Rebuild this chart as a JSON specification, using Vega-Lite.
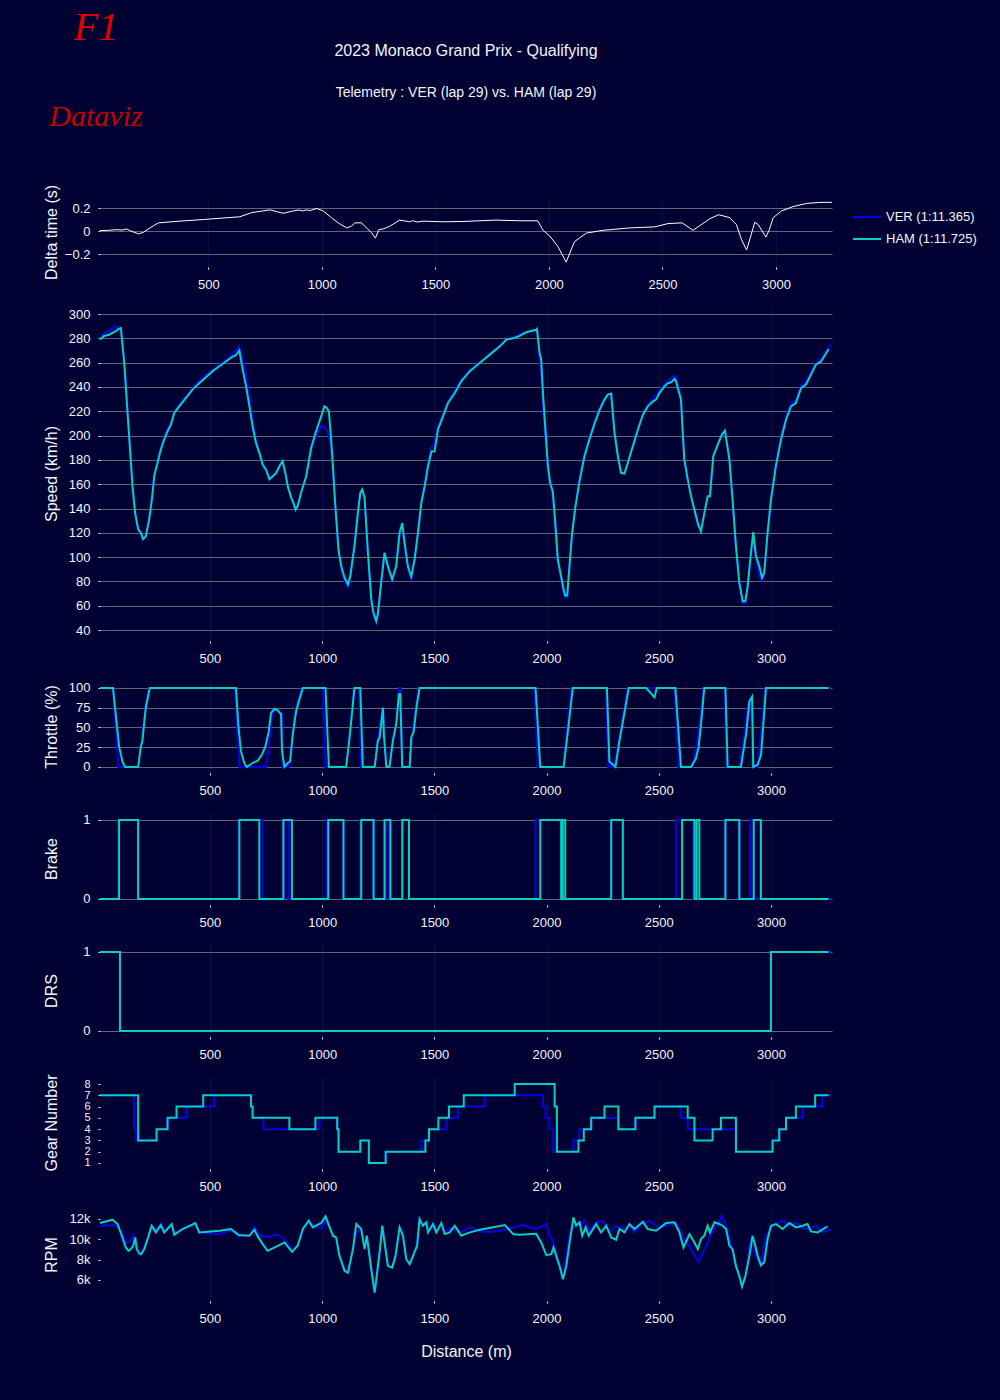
{
  "$schema": "https://vega.github.io/schema/vega-lite/v6.json",
  "background": "#000033",
  "padding": {"left": 42, "top": 8, "right": 90, "bottom": 50},
  "title": {
    "text": "F1",
    "subtitle": "Dataviz",
    "anchor": "start",
    "align": "center",
    "dx": 53,
    "offset": -89,
    "font": "Liberation Serif",
    "fontStyle": "italic",
    "fontWeight": "normal",
    "fontSize": 40,
    "color": "#e00000",
    "subtitleFont": "Liberation Serif",
    "subtitleFontStyle": "italic",
    "subtitleFontSize": 30,
    "subtitleColor": "#c80000",
    "subtitlePadding": 54
  },
  "datasets": {
    "delta": [
      {"d": 23, "v": 0.003}, {"d": 60, "v": 0.006}, {"d": 97, "v": 0.012}, {"d": 120, "v": 0.008}, {"d": 141, "v": 0.018},
      {"d": 155, "v": 0.003}, {"d": 192, "v": -0.024}, {"d": 214, "v": -0.012}, {"d": 243, "v": 0.027}, {"d": 280, "v": 0.071},
      {"d": 375, "v": 0.086}, {"d": 478, "v": 0.1}, {"d": 639, "v": 0.124}, {"d": 691, "v": 0.16}, {"d": 771, "v": 0.184},
      {"d": 800, "v": 0.17}, {"d": 830, "v": 0.154}, {"d": 874, "v": 0.175}, {"d": 900, "v": 0.183}, {"d": 915, "v": 0.175},
      {"d": 933, "v": 0.184}, {"d": 950, "v": 0.178}, {"d": 977, "v": 0.196}, {"d": 1006, "v": 0.175}, {"d": 1043, "v": 0.116},
      {"d": 1072, "v": 0.071}, {"d": 1109, "v": 0.027}, {"d": 1130, "v": 0.041}, {"d": 1145, "v": 0.071}, {"d": 1175, "v": 0.071},
      {"d": 1189, "v": 0.041}, {"d": 1218, "v": -0.012}, {"d": 1236, "v": -0.062}, {"d": 1251, "v": 0.012}, {"d": 1270, "v": 0.018},
      {"d": 1299, "v": 0.041}, {"d": 1343, "v": 0.095}, {"d": 1365, "v": 0.088}, {"d": 1387, "v": 0.08}, {"d": 1400, "v": 0.09},
      {"d": 1420, "v": 0.078}, {"d": 1446, "v": 0.086}, {"d": 1534, "v": 0.08}, {"d": 1622, "v": 0.083}, {"d": 1768, "v": 0.095},
      {"d": 1871, "v": 0.089}, {"d": 1951, "v": 0.089}, {"d": 1974, "v": 0.006}, {"d": 2003, "v": -0.041}, {"d": 2040, "v": -0.136},
      {"d": 2076, "v": -0.27}, {"d": 2113, "v": -0.092}, {"d": 2165, "v": -0.018}, {"d": 2238, "v": 0.006}, {"d": 2356, "v": 0.027},
      {"d": 2466, "v": 0.036}, {"d": 2525, "v": 0.065}, {"d": 2587, "v": 0.071}, {"d": 2635, "v": 0.006}, {"d": 2709, "v": 0.107},
      {"d": 2748, "v": 0.142}, {"d": 2797, "v": 0.116}, {"d": 2826, "v": 0.056}, {"d": 2849, "v": -0.077}, {"d": 2871, "v": -0.166},
      {"d": 2893, "v": -0.018}, {"d": 2907, "v": 0.077}, {"d": 2922, "v": 0.056}, {"d": 2956, "v": -0.053}, {"d": 2971, "v": 0.012},
      {"d": 2988, "v": 0.116}, {"d": 3025, "v": 0.175}, {"d": 3076, "v": 0.213}, {"d": 3135, "v": 0.24}, {"d": 3194, "v": 0.249},
      {"d": 3247, "v": 0.25}
    ],
    "speed": [
      {"drv":"VER","d":10,"v":279.5},{"drv":"VER","d":28,"v":284},{"drv":"VER","d":51,"v":286},{"drv":"VER","d":80,"v":290},{"drv":"VER","d":95,"v":288.5},
      {"drv":"VER","d":103,"v":287},{"drv":"VER","d":118,"v":262},{"drv":"VER","d":132,"v":222},{"drv":"VER","d":147,"v":181},{"drv":"VER","d":155,"v":158},
      {"drv":"VER","d":167,"v":136},{"drv":"VER","d":180,"v":123},{"drv":"VER","d":192,"v":119},{"drv":"VER","d":202,"v":114},{"drv":"VER","d":214,"v":117},
      {"drv":"VER","d":229,"v":132},{"drv":"VER","d":241,"v":149},{"drv":"VER","d":252,"v":168},{"drv":"VER","d":266,"v":178},{"drv":"VER","d":281,"v":190},
      {"drv":"VER","d":296,"v":198},{"drv":"VER","d":311,"v":206},{"drv":"VER","d":326,"v":210},{"drv":"VER","d":341,"v":219},{"drv":"VER","d":363,"v":225},
      {"drv":"VER","d":393,"v":232},{"drv":"VER","d":423,"v":239},{"drv":"VER","d":452,"v":245},{"drv":"VER","d":482,"v":250},{"drv":"VER","d":512,"v":254},
      {"drv":"VER","d":542,"v":258},{"drv":"VER","d":571,"v":262},{"drv":"VER","d":601,"v":267},{"drv":"VER","d":615,"v":270},{"drv":"VER","d":631,"v":273},
      {"drv":"VER","d":646,"v":262},{"drv":"VER","d":661,"v":250},{"drv":"VER","d":676,"v":232},{"drv":"VER","d":690,"v":212},{"drv":"VER","d":705,"v":196},
      {"drv":"VER","d":720,"v":187},{"drv":"VER","d":735,"v":177},{"drv":"VER","d":750,"v":172},{"drv":"VER","d":765,"v":165},{"drv":"VER","d":780,"v":167},
      {"drv":"VER","d":795,"v":170},{"drv":"VER","d":810,"v":175},{"drv":"VER","d":824,"v":178},{"drv":"VER","d":836,"v":170},{"drv":"VER","d":847,"v":158},
      {"drv":"VER","d":862,"v":149},{"drv":"VER","d":872,"v":144},{"drv":"VER","d":881,"v":139},{"drv":"VER","d":891,"v":142},{"drv":"VER","d":906,"v":153},
      {"drv":"VER","d":929,"v":167},{"drv":"VER","d":951,"v":188},{"drv":"VER","d":973,"v":200},{"drv":"VER","d":996,"v":208},{"drv":"VER","d":1010,"v":207},
      {"drv":"VER","d":1021,"v":204},{"drv":"VER","d":1030,"v":199},{"drv":"VER","d":1040,"v":190},{"drv":"VER","d":1048,"v":172},{"drv":"VER","d":1055,"v":150},
      {"drv":"VER","d":1062,"v":132},{"drv":"VER","d":1073,"v":105},{"drv":"VER","d":1085,"v":90},{"drv":"VER","d":1100,"v":80},{"drv":"VER","d":1115,"v":75},
      {"drv":"VER","d":1125,"v":83},{"drv":"VER","d":1144,"v":110},{"drv":"VER","d":1159,"v":137},{"drv":"VER","d":1170,"v":153},{"drv":"VER","d":1179,"v":155},
      {"drv":"VER","d":1189,"v":148},{"drv":"VER","d":1204,"v":102},{"drv":"VER","d":1219,"v":63},{"drv":"VER","d":1229,"v":52},{"drv":"VER","d":1241,"v":46},
      {"drv":"VER","d":1248,"v":52},{"drv":"VER","d":1263,"v":79},{"drv":"VER","d":1278,"v":103},{"drv":"VER","d":1293,"v":92},{"drv":"VER","d":1312,"v":81},
      {"drv":"VER","d":1330,"v":93},{"drv":"VER","d":1345,"v":121},{"drv":"VER","d":1357,"v":127},{"drv":"VER","d":1367,"v":110},{"drv":"VER","d":1382,"v":90},
      {"drv":"VER","d":1397,"v":82},{"drv":"VER","d":1412,"v":98},{"drv":"VER","d":1427,"v":121},{"drv":"VER","d":1442,"v":146},{"drv":"VER","d":1457,"v":160},
      {"drv":"VER","d":1472,"v":177},{"drv":"VER","d":1487,"v":190},{"drv":"VER","d":1501,"v":195},{"drv":"VER","d":1516,"v":207},{"drv":"VER","d":1539,"v":218},
      {"drv":"VER","d":1561,"v":228},{"drv":"VER","d":1591,"v":237},{"drv":"VER","d":1620,"v":246},{"drv":"VER","d":1658,"v":254},{"drv":"VER","d":1702,"v":260},
      {"drv":"VER","d":1747,"v":267},{"drv":"VER","d":1792,"v":274},{"drv":"VER","d":1821,"v":279},{"drv":"VER","d":1851,"v":281},{"drv":"VER","d":1880,"v":283},
      {"drv":"VER","d":1909,"v":285},{"drv":"VER","d":1954,"v":287},{"drv":"VER","d":1960,"v":286},{"drv":"VER","d":1969,"v":262},{"drv":"VER","d":1976,"v":250},
      {"drv":"VER","d":1984,"v":225},{"drv":"VER","d":1996,"v":195},{"drv":"VER","d":2006,"v":172},{"drv":"VER","d":2016,"v":160},{"drv":"VER","d":2028,"v":150},
      {"drv":"VER","d":2040,"v":122},{"drv":"VER","d":2050,"v":96},{"drv":"VER","d":2065,"v":82},{"drv":"VER","d":2076,"v":70},{"drv":"VER","d":2083,"v":67},
      {"drv":"VER","d":2092,"v":67},{"drv":"VER","d":2102,"v":90},{"drv":"VER","d":2114,"v":118},{"drv":"VER","d":2129,"v":142},{"drv":"VER","d":2147,"v":165},
      {"drv":"VER","d":2169,"v":185},{"drv":"VER","d":2191,"v":198},{"drv":"VER","d":2214,"v":211},{"drv":"VER","d":2236,"v":222},{"drv":"VER","d":2258,"v":230},
      {"drv":"VER","d":2273,"v":234},{"drv":"VER","d":2288,"v":234},{"drv":"VER","d":2303,"v":202},{"drv":"VER","d":2318,"v":183},{"drv":"VER","d":2332,"v":170},
      {"drv":"VER","d":2347,"v":169},{"drv":"VER","d":2362,"v":177},{"drv":"VER","d":2384,"v":190},{"drv":"VER","d":2407,"v":204},{"drv":"VER","d":2429,"v":217},
      {"drv":"VER","d":2451,"v":225},{"drv":"VER","d":2473,"v":230},{"drv":"VER","d":2488,"v":233},{"drv":"VER","d":2503,"v":237},{"drv":"VER","d":2525,"v":242},
      {"drv":"VER","d":2540,"v":245},{"drv":"VER","d":2555,"v":247},{"drv":"VER","d":2570,"v":249},{"drv":"VER","d":2577,"v":248},{"drv":"VER","d":2585,"v":242},
      {"drv":"VER","d":2599,"v":232},{"drv":"VER","d":2607,"v":205},{"drv":"VER","d":2614,"v":183},{"drv":"VER","d":2629,"v":165},{"drv":"VER","d":2644,"v":150},
      {"drv":"VER","d":2659,"v":138},{"drv":"VER","d":2674,"v":126},{"drv":"VER","d":2688,"v":122},{"drv":"VER","d":2703,"v":137},{"drv":"VER","d":2718,"v":150},
      {"drv":"VER","d":2728,"v":150},{"drv":"VER","d":2743,"v":183},{"drv":"VER","d":2763,"v":193},{"drv":"VER","d":2782,"v":201},{"drv":"VER","d":2795,"v":204},
      {"drv":"VER","d":2815,"v":180},{"drv":"VER","d":2829,"v":146},{"drv":"VER","d":2844,"v":107},{"drv":"VER","d":2859,"v":77},{"drv":"VER","d":2874,"v":62},
      {"drv":"VER","d":2886,"v":62},{"drv":"VER","d":2896,"v":75},{"drv":"VER","d":2911,"v":102},{"drv":"VER","d":2921,"v":118},{"drv":"VER","d":2933,"v":99},
      {"drv":"VER","d":2948,"v":85},{"drv":"VER","d":2960,"v":81},{"drv":"VER","d":2970,"v":86},{"drv":"VER","d":2985,"v":120},{"drv":"VER","d":3000,"v":148},
      {"drv":"VER","d":3022,"v":177},{"drv":"VER","d":3045,"v":199},{"drv":"VER","d":3067,"v":215},{"drv":"VER","d":3089,"v":226},{"drv":"VER","d":3111,"v":229},
      {"drv":"VER","d":3134,"v":241},{"drv":"VER","d":3156,"v":244},{"drv":"VER","d":3178,"v":252},{"drv":"VER","d":3200,"v":259},{"drv":"VER","d":3223,"v":263},
      {"drv":"VER","d":3267,"v":275},
      {"drv":"HAM","d":10,"v":279},{"drv":"HAM","d":28,"v":282},{"drv":"HAM","d":51,"v":283},{"drv":"HAM","d":80,"v":286},{"drv":"HAM","d":95,"v":288},
      {"drv":"HAM","d":103,"v":288.5},{"drv":"HAM","d":118,"v":260},{"drv":"HAM","d":132,"v":221},{"drv":"HAM","d":147,"v":180},{"drv":"HAM","d":155,"v":158},
      {"drv":"HAM","d":167,"v":136},{"drv":"HAM","d":180,"v":123},{"drv":"HAM","d":192,"v":120},{"drv":"HAM","d":202,"v":115},{"drv":"HAM","d":214,"v":117},
      {"drv":"HAM","d":229,"v":131},{"drv":"HAM","d":241,"v":147},{"drv":"HAM","d":252,"v":167},{"drv":"HAM","d":266,"v":177.5},{"drv":"HAM","d":281,"v":188.5},
      {"drv":"HAM","d":296,"v":196.7},{"drv":"HAM","d":311,"v":203.6},{"drv":"HAM","d":326,"v":209},{"drv":"HAM","d":341,"v":218.6},{"drv":"HAM","d":363,"v":224},
      {"drv":"HAM","d":393,"v":231},{"drv":"HAM","d":423,"v":238},{"drv":"HAM","d":452,"v":243},{"drv":"HAM","d":482,"v":248},{"drv":"HAM","d":512,"v":253},
      {"drv":"HAM","d":542,"v":257},{"drv":"HAM","d":571,"v":261},{"drv":"HAM","d":601,"v":265},{"drv":"HAM","d":615,"v":266},{"drv":"HAM","d":631,"v":270},
      {"drv":"HAM","d":646,"v":254},{"drv":"HAM","d":661,"v":240.5},{"drv":"HAM","d":676,"v":224},{"drv":"HAM","d":690,"v":207.7},{"drv":"HAM","d":705,"v":194},
      {"drv":"HAM","d":720,"v":185.8},{"drv":"HAM","d":735,"v":176},{"drv":"HAM","d":750,"v":172},{"drv":"HAM","d":765,"v":164},{"drv":"HAM","d":780,"v":166.6},
      {"drv":"HAM","d":795,"v":169},{"drv":"HAM","d":810,"v":175},{"drv":"HAM","d":824,"v":179},{"drv":"HAM","d":836,"v":169},{"drv":"HAM","d":847,"v":158},
      {"drv":"HAM","d":862,"v":149},{"drv":"HAM","d":872,"v":144.7},{"drv":"HAM","d":881,"v":139},{"drv":"HAM","d":891,"v":142},{"drv":"HAM","d":906,"v":153},
      {"drv":"HAM","d":929,"v":166.6},{"drv":"HAM","d":951,"v":190},{"drv":"HAM","d":973,"v":203.6},{"drv":"HAM","d":996,"v":216},{"drv":"HAM","d":1010,"v":224},
      {"drv":"HAM","d":1021,"v":222.7},{"drv":"HAM","d":1030,"v":220},{"drv":"HAM","d":1040,"v":196.7},{"drv":"HAM","d":1048,"v":175},{"drv":"HAM","d":1055,"v":153},
      {"drv":"HAM","d":1062,"v":133.7},{"drv":"HAM","d":1073,"v":106},{"drv":"HAM","d":1085,"v":92.6},{"drv":"HAM","d":1100,"v":83},{"drv":"HAM","d":1115,"v":77.5},
      {"drv":"HAM","d":1125,"v":84},{"drv":"HAM","d":1144,"v":109},{"drv":"HAM","d":1159,"v":136},{"drv":"HAM","d":1170,"v":153},{"drv":"HAM","d":1179,"v":155.6},
      {"drv":"HAM","d":1189,"v":149},{"drv":"HAM","d":1204,"v":103.6},{"drv":"HAM","d":1219,"v":65},{"drv":"HAM","d":1229,"v":54},{"drv":"HAM","d":1241,"v":47.4},
      {"drv":"HAM","d":1248,"v":52.8},{"drv":"HAM","d":1263,"v":79},{"drv":"HAM","d":1278,"v":103.6},{"drv":"HAM","d":1293,"v":92.6},{"drv":"HAM","d":1312,"v":81.6},
      {"drv":"HAM","d":1330,"v":92.6},{"drv":"HAM","d":1345,"v":120},{"drv":"HAM","d":1357,"v":128},{"drv":"HAM","d":1367,"v":112},{"drv":"HAM","d":1382,"v":92.6},
      {"drv":"HAM","d":1397,"v":84},{"drv":"HAM","d":1412,"v":98},{"drv":"HAM","d":1427,"v":120},{"drv":"HAM","d":1442,"v":144.7},{"drv":"HAM","d":1457,"v":158.4},
      {"drv":"HAM","d":1472,"v":175},{"drv":"HAM","d":1487,"v":187},{"drv":"HAM","d":1501,"v":187},{"drv":"HAM","d":1516,"v":205},{"drv":"HAM","d":1539,"v":216},
      {"drv":"HAM","d":1561,"v":226.8},{"drv":"HAM","d":1591,"v":235},{"drv":"HAM","d":1620,"v":244.7},{"drv":"HAM","d":1658,"v":253},{"drv":"HAM","d":1702,"v":259.7},
      {"drv":"HAM","d":1747,"v":266.6},{"drv":"HAM","d":1792,"v":273.4},{"drv":"HAM","d":1821,"v":279},{"drv":"HAM","d":1851,"v":280},{"drv":"HAM","d":1880,"v":282},
      {"drv":"HAM","d":1909,"v":285},{"drv":"HAM","d":1954,"v":287},{"drv":"HAM","d":1957,"v":287.7},{"drv":"HAM","d":1969,"v":268},{"drv":"HAM","d":1976,"v":262.5},
      {"drv":"HAM","d":1984,"v":235},{"drv":"HAM","d":1996,"v":202},{"drv":"HAM","d":2006,"v":175},{"drv":"HAM","d":2016,"v":161},{"drv":"HAM","d":2028,"v":154},
      {"drv":"HAM","d":2040,"v":125.5},{"drv":"HAM","d":2050,"v":98},{"drv":"HAM","d":2065,"v":84},{"drv":"HAM","d":2076,"v":73.4},{"drv":"HAM","d":2083,"v":68.5},
      {"drv":"HAM","d":2092,"v":68.5},{"drv":"HAM","d":2102,"v":92.6},{"drv":"HAM","d":2114,"v":120},{"drv":"HAM","d":2129,"v":142},{"drv":"HAM","d":2147,"v":162.5},
      {"drv":"HAM","d":2169,"v":183},{"drv":"HAM","d":2191,"v":196.7},{"drv":"HAM","d":2214,"v":210},{"drv":"HAM","d":2236,"v":221},{"drv":"HAM","d":2258,"v":229.6},
      {"drv":"HAM","d":2273,"v":233.7},{"drv":"HAM","d":2288,"v":234.5},{"drv":"HAM","d":2303,"v":202},{"drv":"HAM","d":2318,"v":183},{"drv":"HAM","d":2332,"v":169.3},
      {"drv":"HAM","d":2347,"v":168.8},{"drv":"HAM","d":2362,"v":177.5},{"drv":"HAM","d":2384,"v":191},{"drv":"HAM","d":2407,"v":205},{"drv":"HAM","d":2429,"v":217},
      {"drv":"HAM","d":2451,"v":224},{"drv":"HAM","d":2473,"v":228},{"drv":"HAM","d":2488,"v":229.6},{"drv":"HAM","d":2503,"v":235},{"drv":"HAM","d":2525,"v":240.5},
      {"drv":"HAM","d":2540,"v":243},{"drv":"HAM","d":2555,"v":243.8},{"drv":"HAM","d":2570,"v":246.6},{"drv":"HAM","d":2577,"v":244.7},{"drv":"HAM","d":2585,"v":239},
      {"drv":"HAM","d":2599,"v":229.6},{"drv":"HAM","d":2607,"v":202},{"drv":"HAM","d":2614,"v":180},{"drv":"HAM","d":2629,"v":164},{"drv":"HAM","d":2644,"v":150},
      {"drv":"HAM","d":2659,"v":139},{"drv":"HAM","d":2674,"v":128},{"drv":"HAM","d":2688,"v":121},{"drv":"HAM","d":2703,"v":136},{"drv":"HAM","d":2718,"v":150},
      {"drv":"HAM","d":2728,"v":150},{"drv":"HAM","d":2743,"v":183},{"drv":"HAM","d":2763,"v":192.6},{"drv":"HAM","d":2782,"v":201},{"drv":"HAM","d":2795,"v":204},
      {"drv":"HAM","d":2815,"v":180},{"drv":"HAM","d":2829,"v":147},{"drv":"HAM","d":2844,"v":109},{"drv":"HAM","d":2859,"v":79},{"drv":"HAM","d":2874,"v":63.8},
      {"drv":"HAM","d":2886,"v":63.8},{"drv":"HAM","d":2896,"v":76},{"drv":"HAM","d":2911,"v":103.6},{"drv":"HAM","d":2921,"v":120.5},{"drv":"HAM","d":2933,"v":100.8},
      {"drv":"HAM","d":2948,"v":92.6},{"drv":"HAM","d":2960,"v":83},{"drv":"HAM","d":2970,"v":87},{"drv":"HAM","d":2985,"v":120},{"drv":"HAM","d":3000,"v":147},
      {"drv":"HAM","d":3022,"v":175},{"drv":"HAM","d":3045,"v":196.7},{"drv":"HAM","d":3067,"v":213},{"drv":"HAM","d":3089,"v":224},{"drv":"HAM","d":3111,"v":226.8},
      {"drv":"HAM","d":3134,"v":239},{"drv":"HAM","d":3156,"v":242},{"drv":"HAM","d":3178,"v":250},{"drv":"HAM","d":3200,"v":258.4},{"drv":"HAM","d":3223,"v":261},
      {"drv":"HAM","d":3257,"v":271}
    ],
    "throttle": [
      {"drv":"VER","d":10,"v":100},{"drv":"VER","d":68,"v":100},{"drv":"VER","d":85,"v":30},{"drv":"VER","d":92,"v":0},{"drv":"VER","d":180,"v":0},
      {"drv":"VER","d":195,"v":30},{"drv":"VER","d":214,"v":80},{"drv":"VER","d":228,"v":100},{"drv":"VER","d":612,"v":100},{"drv":"VER","d":622,"v":40},
      {"drv":"VER","d":632,"v":0},{"drv":"VER","d":750,"v":0},{"drv":"VER","d":760,"v":20},{"drv":"VER","d":772,"v":60},{"drv":"VER","d":787,"v":73},
      {"drv":"VER","d":802,"v":71},{"drv":"VER","d":815,"v":68},{"drv":"VER","d":820,"v":68},{"drv":"VER","d":825,"v":0},{"drv":"VER","d":852,"v":0},
      {"drv":"VER","d":860,"v":10},{"drv":"VER","d":869,"v":45},{"drv":"VER","d":884,"v":75},{"drv":"VER","d":910,"v":100},{"drv":"VER","d":1003,"v":100},
      {"drv":"VER","d":1015,"v":0},{"drv":"VER","d":1107,"v":0},{"drv":"VER","d":1125,"v":45},{"drv":"VER","d":1142,"v":100},{"drv":"VER","d":1165,"v":100},
      {"drv":"VER","d":1174,"v":0},{"drv":"VER","d":1234,"v":0},{"drv":"VER","d":1248,"v":33},{"drv":"VER","d":1271,"v":75},{"drv":"VER","d":1286,"v":0},
      {"drv":"VER","d":1300,"v":0},{"drv":"VER","d":1318,"v":40},{"drv":"VER","d":1333,"v":60},{"drv":"VER","d":1342,"v":100},{"drv":"VER","d":1350,"v":100},
      {"drv":"VER","d":1357,"v":0},{"drv":"VER","d":1390,"v":0},{"drv":"VER","d":1400,"v":40},{"drv":"VER","d":1418,"v":75},{"drv":"VER","d":1430,"v":100},
      {"drv":"VER","d":1946,"v":100},{"drv":"VER","d":1962,"v":0},{"drv":"VER","d":2076,"v":0},{"drv":"VER","d":2090,"v":45},{"drv":"VER","d":2112,"v":100},
      {"drv":"VER","d":2265,"v":100},{"drv":"VER","d":2275,"v":0},{"drv":"VER","d":2300,"v":0},{"drv":"VER","d":2322,"v":33},{"drv":"VER","d":2340,"v":62},
      {"drv":"VER","d":2362,"v":100},{"drv":"VER","d":2570,"v":100},{"drv":"VER","d":2590,"v":0},{"drv":"VER","d":2650,"v":0},{"drv":"VER","d":2670,"v":30},
      {"drv":"VER","d":2680,"v":50},{"drv":"VER","d":2700,"v":100},{"drv":"VER","d":2795,"v":100},{"drv":"VER","d":2802,"v":0},{"drv":"VER","d":2860,"v":0},
      {"drv":"VER","d":2882,"v":41},{"drv":"VER","d":2898,"v":80},{"drv":"VER","d":2912,"v":88},{"drv":"VER","d":2918,"v":0},{"drv":"VER","d":2940,"v":0},
      {"drv":"VER","d":2952,"v":30},{"drv":"VER","d":2962,"v":60},{"drv":"VER","d":2975,"v":100},{"drv":"VER","d":3267,"v":100},
      {"drv":"HAM","d":10,"v":100},{"drv":"HAM","d":68,"v":100},{"drv":"HAM","d":95,"v":26},{"drv":"HAM","d":110,"v":7},{"drv":"HAM","d":122,"v":0},
      {"drv":"HAM","d":180,"v":0},{"drv":"HAM","d":192,"v":26},{"drv":"HAM","d":199,"v":33},{"drv":"HAM","d":214,"v":75},{"drv":"HAM","d":232,"v":100},
      {"drv":"HAM","d":616,"v":100},{"drv":"HAM","d":626,"v":54},{"drv":"HAM","d":638,"v":20},{"drv":"HAM","d":653,"v":5},{"drv":"HAM","d":664,"v":0},
      {"drv":"HAM","d":690,"v":5},{"drv":"HAM","d":713,"v":8},{"drv":"HAM","d":732,"v":15.7},{"drv":"HAM","d":747,"v":26},{"drv":"HAM","d":762,"v":45},
      {"drv":"HAM","d":772,"v":68.6},{"drv":"HAM","d":787,"v":73.7},{"drv":"HAM","d":802,"v":71.6},{"drv":"HAM","d":817,"v":66.5},{"drv":"HAM","d":821,"v":20},
      {"drv":"HAM","d":832,"v":0},{"drv":"HAM","d":847,"v":5},{"drv":"HAM","d":857,"v":7},{"drv":"HAM","d":869,"v":41},{"drv":"HAM","d":884,"v":70.8},
      {"drv":"HAM","d":914,"v":100},{"drv":"HAM","d":1015,"v":100},{"drv":"HAM","d":1030,"v":0},{"drv":"HAM","d":1107,"v":0},{"drv":"HAM","d":1122,"v":37},
      {"drv":"HAM","d":1144,"v":100},{"drv":"HAM","d":1170,"v":100},{"drv":"HAM","d":1181,"v":0},{"drv":"HAM","d":1234,"v":0},{"drv":"HAM","d":1248,"v":33},
      {"drv":"HAM","d":1256,"v":37},{"drv":"HAM","d":1271,"v":75},{"drv":"HAM","d":1275,"v":41},{"drv":"HAM","d":1286,"v":0},{"drv":"HAM","d":1300,"v":0},
      {"drv":"HAM","d":1315,"v":33},{"drv":"HAM","d":1330,"v":54},{"drv":"HAM","d":1342,"v":92},{"drv":"HAM","d":1348,"v":92},{"drv":"HAM","d":1357,"v":0},
      {"drv":"HAM","d":1390,"v":0},{"drv":"HAM","d":1397,"v":37},{"drv":"HAM","d":1408,"v":45},{"drv":"HAM","d":1420,"v":75},{"drv":"HAM","d":1434,"v":100},
      {"drv":"HAM","d":1951,"v":100},{"drv":"HAM","d":1972,"v":0},{"drv":"HAM","d":2076,"v":0},{"drv":"HAM","d":2095,"v":45},{"drv":"HAM","d":2117,"v":100},
      {"drv":"HAM","d":2269,"v":100},{"drv":"HAM","d":2280,"v":7},{"drv":"HAM","d":2307,"v":0},{"drv":"HAM","d":2325,"v":33},{"drv":"HAM","d":2343,"v":62},
      {"drv":"HAM","d":2366,"v":100},{"drv":"HAM","d":2444,"v":100},{"drv":"HAM","d":2481,"v":88},{"drv":"HAM","d":2491,"v":100},{"drv":"HAM","d":2574,"v":100},
      {"drv":"HAM","d":2599,"v":0},{"drv":"HAM","d":2644,"v":0},{"drv":"HAM","d":2666,"v":11},{"drv":"HAM","d":2678,"v":26},{"drv":"HAM","d":2688,"v":54},
      {"drv":"HAM","d":2703,"v":100},{"drv":"HAM","d":2797,"v":100},{"drv":"HAM","d":2807,"v":0},{"drv":"HAM","d":2866,"v":0},{"drv":"HAM","d":2889,"v":41},
      {"drv":"HAM","d":2904,"v":83},{"drv":"HAM","d":2916,"v":89},{"drv":"HAM","d":2921,"v":0},{"drv":"HAM","d":2941,"v":3},{"drv":"HAM","d":2956,"v":15.7},
      {"drv":"HAM","d":2966,"v":54},{"drv":"HAM","d":2978,"v":100},{"drv":"HAM","d":3257,"v":100}
    ],
    "brake": [
      {"drv":"VER","d":10,"v":0},{"drv":"VER","d":92,"v":1},{"drv":"VER","d":180,"v":0},{"drv":"VER","d":628,"v":1},{"drv":"VER","d":735,"v":0},
      {"drv":"VER","d":830,"v":1},{"drv":"VER","d":850,"v":0},{"drv":"VER","d":1020,"v":1},{"drv":"VER","d":1095,"v":0},{"drv":"VER","d":1170,"v":1},
      {"drv":"VER","d":1229,"v":0},{"drv":"VER","d":1282,"v":1},{"drv":"VER","d":1300,"v":0},{"drv":"VER","d":1357,"v":1},{"drv":"VER","d":1387,"v":0},
      {"drv":"VER","d":1951,"v":1},{"drv":"VER","d":2065,"v":0},{"drv":"VER","d":2288,"v":1},{"drv":"VER","d":2340,"v":0},{"drv":"VER","d":2577,"v":1},
      {"drv":"VER","d":2655,"v":0},{"drv":"VER","d":2797,"v":1},{"drv":"VER","d":2859,"v":0},{"drv":"VER","d":2907,"v":1},{"drv":"VER","d":2925,"v":0},
      {"drv":"VER","d":3267,"v":0},
      {"drv":"HAM","d":10,"v":0},{"drv":"HAM","d":95,"v":1},{"drv":"HAM","d":180,"v":0},{"drv":"HAM","d":631,"v":1},{"drv":"HAM","d":720,"v":0},
      {"drv":"HAM","d":827,"v":1},{"drv":"HAM","d":865,"v":0},{"drv":"HAM","d":1027,"v":1},{"drv":"HAM","d":1095,"v":0},{"drv":"HAM","d":1174,"v":1},
      {"drv":"HAM","d":1229,"v":0},{"drv":"HAM","d":1278,"v":1},{"drv":"HAM","d":1304,"v":0},{"drv":"HAM","d":1357,"v":1},{"drv":"HAM","d":1387,"v":0},
      {"drv":"HAM","d":1972,"v":1},{"drv":"HAM","d":2065,"v":0},{"drv":"HAM","d":2072,"v":1},{"drv":"HAM","d":2083,"v":0},{"drv":"HAM","d":2288,"v":1},
      {"drv":"HAM","d":2340,"v":0},{"drv":"HAM","d":2604,"v":1},{"drv":"HAM","d":2659,"v":0},{"drv":"HAM","d":2669,"v":1},{"drv":"HAM","d":2681,"v":0},
      {"drv":"HAM","d":2797,"v":1},{"drv":"HAM","d":2859,"v":0},{"drv":"HAM","d":2923,"v":1},{"drv":"HAM","d":2955,"v":0},{"drv":"HAM","d":3257,"v":0}
    ],
    "drs": [
      {"drv":"VER","d":10,"v":1},{"drv":"VER","d":99,"v":0},{"drv":"VER","d":3000,"v":1},{"drv":"VER","d":3267,"v":1},
      {"drv":"HAM","d":10,"v":1},{"drv":"HAM","d":99,"v":0},{"drv":"HAM","d":3000,"v":1},{"drv":"HAM","d":3257,"v":1}
    ],
    "gear": [
      {"drv":"VER","d":10,"v":7},{"drv":"VER","d":162,"v":4},{"drv":"VER","d":170,"v":3},{"drv":"VER","d":262,"v":4},{"drv":"VER","d":311,"v":5},
      {"drv":"VER","d":393,"v":6},{"drv":"VER","d":519,"v":7},{"drv":"VER","d":683,"v":6},{"drv":"VER","d":690,"v":5},{"drv":"VER","d":738,"v":4},
      {"drv":"VER","d":988,"v":5},{"drv":"VER","d":1067,"v":4},{"drv":"VER","d":1073,"v":2},{"drv":"VER","d":1170,"v":3},{"drv":"VER","d":1208,"v":1},
      {"drv":"VER","d":1283,"v":2},{"drv":"VER","d":1442,"v":3},{"drv":"VER","d":1476,"v":4},{"drv":"VER","d":1553,"v":5},{"drv":"VER","d":1605,"v":6},
      {"drv":"VER","d":1724,"v":7},{"drv":"VER","d":1984,"v":6},{"drv":"VER","d":1996,"v":5},{"drv":"VER","d":2013,"v":4},{"drv":"VER","d":2030,"v":2},
      {"drv":"VER","d":2120,"v":3},{"drv":"VER","d":2147,"v":4},{"drv":"VER","d":2199,"v":5},{"drv":"VER","d":2320,"v":4},{"drv":"VER","d":2396,"v":5},
      {"drv":"VER","d":2481,"v":6},{"drv":"VER","d":2599,"v":5},{"drv":"VER","d":2629,"v":4},{"drv":"VER","d":2844,"v":2},{"drv":"VER","d":3007,"v":3},
      {"drv":"VER","d":3037,"v":4},{"drv":"VER","d":3067,"v":5},{"drv":"VER","d":3141,"v":6},{"drv":"VER","d":3230,"v":7},{"drv":"VER","d":3267,"v":7},
      {"drv":"HAM","d":10,"v":7},{"drv":"HAM","d":180,"v":3},{"drv":"HAM","d":262,"v":4},{"drv":"HAM","d":311,"v":5},{"drv":"HAM","d":351,"v":6},
      {"drv":"HAM","d":470,"v":7},{"drv":"HAM","d":683,"v":6},{"drv":"HAM","d":690,"v":5},{"drv":"HAM","d":854,"v":4},{"drv":"HAM","d":970,"v":5},
      {"drv":"HAM","d":1067,"v":4},{"drv":"HAM","d":1073,"v":2},{"drv":"HAM","d":1170,"v":3},{"drv":"HAM","d":1208,"v":1},{"drv":"HAM","d":1283,"v":2},
      {"drv":"HAM","d":1460,"v":3},{"drv":"HAM","d":1476,"v":4},{"drv":"HAM","d":1518,"v":5},{"drv":"HAM","d":1565,"v":6},{"drv":"HAM","d":1631,"v":7},
      {"drv":"HAM","d":1858,"v":8},{"drv":"HAM","d":2036,"v":6},{"drv":"HAM","d":2046,"v":2},{"drv":"HAM","d":2142,"v":3},{"drv":"HAM","d":2166,"v":4},
      {"drv":"HAM","d":2199,"v":5},{"drv":"HAM","d":2258,"v":6},{"drv":"HAM","d":2320,"v":4},{"drv":"HAM","d":2396,"v":5},{"drv":"HAM","d":2481,"v":6},
      {"drv":"HAM","d":2629,"v":5},{"drv":"HAM","d":2659,"v":3},{"drv":"HAM","d":2740,"v":4},{"drv":"HAM","d":2777,"v":5},{"drv":"HAM","d":2844,"v":2},
      {"drv":"HAM","d":3007,"v":3},{"drv":"HAM","d":3037,"v":4},{"drv":"HAM","d":3067,"v":5},{"drv":"HAM","d":3111,"v":6},{"drv":"HAM","d":3197,"v":7},
      {"drv":"HAM","d":3257,"v":7}
    ],
    "rpm": [
      {"drv":"VER","d":10,"v":11300},{"drv":"VER","d":66,"v":11400},{"drv":"VER","d":88,"v":11300},{"drv":"VER","d":107,"v":10800},{"drv":"VER","d":125,"v":9600},
      {"drv":"VER","d":137,"v":9800},{"drv":"VER","d":147,"v":9900},{"drv":"VER","d":158,"v":10500},{"drv":"VER","d":167,"v":9400},{"drv":"VER","d":174,"v":9100},
      {"drv":"VER","d":185,"v":8700},{"drv":"VER","d":193,"v":8500},{"drv":"VER","d":207,"v":9000},{"drv":"VER","d":222,"v":10000},{"drv":"VER","d":240,"v":11300},
      {"drv":"VER","d":259,"v":10900},{"drv":"VER","d":281,"v":11500},{"drv":"VER","d":296,"v":10900},{"drv":"VER","d":330,"v":11400},{"drv":"VER","d":341,"v":10600},
      {"drv":"VER","d":378,"v":11000},{"drv":"VER","d":435,"v":11500},{"drv":"VER","d":452,"v":10700},{"drv":"VER","d":542,"v":10500},{"drv":"VER","d":594,"v":10900},
      {"drv":"VER","d":628,"v":10300},{"drv":"VER","d":676,"v":10400},{"drv":"VER","d":698,"v":11200},{"drv":"VER","d":713,"v":10500},{"drv":"VER","d":735,"v":10300},
      {"drv":"VER","d":757,"v":10200},{"drv":"VER","d":802,"v":10500},{"drv":"VER","d":832,"v":10000},{"drv":"VER","d":866,"v":8900},{"drv":"VER","d":891,"v":9400},
      {"drv":"VER","d":914,"v":11000},{"drv":"VER","d":940,"v":11700},{"drv":"VER","d":958,"v":11500},{"drv":"VER","d":996,"v":11000},{"drv":"VER","d":1015,"v":11900},
      {"drv":"VER","d":1048,"v":10500},{"drv":"VER","d":1062,"v":10100},{"drv":"VER","d":1077,"v":8400},{"drv":"VER","d":1100,"v":7100},{"drv":"VER","d":1115,"v":6700},
      {"drv":"VER","d":1137,"v":9000},{"drv":"VER","d":1152,"v":10600},{"drv":"VER","d":1174,"v":11000},{"drv":"VER","d":1189,"v":9200},{"drv":"VER","d":1199,"v":10300},
      {"drv":"VER","d":1219,"v":7000},{"drv":"VER","d":1234,"v":4700},{"drv":"VER","d":1256,"v":8600},{"drv":"VER","d":1268,"v":11300},{"drv":"VER","d":1278,"v":9600},
      {"drv":"VER","d":1293,"v":7400},{"drv":"VER","d":1312,"v":7200},{"drv":"VER","d":1327,"v":8300},{"drv":"VER","d":1345,"v":11100},{"drv":"VER","d":1360,"v":10700},
      {"drv":"VER","d":1375,"v":8000},{"drv":"VER","d":1390,"v":7500},{"drv":"VER","d":1405,"v":8300},{"drv":"VER","d":1423,"v":9500},{"drv":"VER","d":1434,"v":11800},
      {"drv":"VER","d":1449,"v":11400},{"drv":"VER","d":1464,"v":11600},{"drv":"VER","d":1472,"v":10900},{"drv":"VER","d":1494,"v":11600},{"drv":"VER","d":1509,"v":10800},
      {"drv":"VER","d":1531,"v":11500},{"drv":"VER","d":1546,"v":10700},{"drv":"VER","d":1568,"v":11100},{"drv":"VER","d":1591,"v":11000},{"drv":"VER","d":1620,"v":10700},
      {"drv":"VER","d":1658,"v":11200},{"drv":"VER","d":1702,"v":10800},{"drv":"VER","d":1740,"v":10700},{"drv":"VER","d":1791,"v":10850},{"drv":"VER","d":1895,"v":11400},
      {"drv":"VER","d":1954,"v":11000},{"drv":"VER","d":1999,"v":11500},{"drv":"VER","d":2013,"v":10350},{"drv":"VER","d":2028,"v":9860},{"drv":"VER","d":2043,"v":8540},
      {"drv":"VER","d":2073,"v":6230},{"drv":"VER","d":2088,"v":8375},{"drv":"VER","d":2102,"v":10350},{"drv":"VER","d":2125,"v":11670},{"drv":"VER","d":2147,"v":11340},
      {"drv":"VER","d":2169,"v":11835},{"drv":"VER","d":2191,"v":10850},{"drv":"VER","d":2221,"v":11670},{"drv":"VER","d":2251,"v":11835},{"drv":"VER","d":2280,"v":10680},
      {"drv":"VER","d":2310,"v":11340},{"drv":"VER","d":2340,"v":11010},{"drv":"VER","d":2369,"v":11340},{"drv":"VER","d":2392,"v":10680},{"drv":"VER","d":2421,"v":11500},
      {"drv":"VER","d":2458,"v":11835},{"drv":"VER","d":2503,"v":11080},{"drv":"VER","d":2533,"v":11340},{"drv":"VER","d":2577,"v":11600},{"drv":"VER","d":2614,"v":10020},
      {"drv":"VER","d":2644,"v":9035},{"drv":"VER","d":2678,"v":7780},{"drv":"VER","d":2711,"v":9360},{"drv":"VER","d":2740,"v":10850},{"drv":"VER","d":2763,"v":11500},
      {"drv":"VER","d":2782,"v":12330},{"drv":"VER","d":2800,"v":11340},{"drv":"VER","d":2829,"v":8870},{"drv":"VER","d":2847,"v":7060},{"drv":"VER","d":2874,"v":5410},
      {"drv":"VER","d":2889,"v":6400},{"drv":"VER","d":2901,"v":9035},{"drv":"VER","d":2915,"v":10190},{"drv":"VER","d":2933,"v":8375},{"drv":"VER","d":2955,"v":7390},
      {"drv":"VER","d":2978,"v":10350},{"drv":"VER","d":3000,"v":11180},{"drv":"VER","d":3030,"v":11600},{"drv":"VER","d":3052,"v":11835},{"drv":"VER","d":3082,"v":11340},
      {"drv":"VER","d":3111,"v":11670},{"drv":"VER","d":3141,"v":11080},{"drv":"VER","d":3171,"v":11010},{"drv":"VER","d":3200,"v":11340},{"drv":"VER","d":3230,"v":10680},
      {"drv":"VER","d":3267,"v":11010},
      {"drv":"HAM","d":10,"v":11605},{"drv":"HAM","d":66,"v":11934},{"drv":"HAM","d":88,"v":11506},{"drv":"HAM","d":107,"v":10353},{"drv":"HAM","d":125,"v":9200},
      {"drv":"HAM","d":137,"v":8870},{"drv":"HAM","d":147,"v":9035},{"drv":"HAM","d":158,"v":9364},{"drv":"HAM","d":167,"v":10188},{"drv":"HAM","d":174,"v":9035},
      {"drv":"HAM","d":185,"v":8606},{"drv":"HAM","d":193,"v":8540},{"drv":"HAM","d":207,"v":9035},{"drv":"HAM","d":222,"v":10023},{"drv":"HAM","d":240,"v":11341},
      {"drv":"HAM","d":259,"v":10682},{"drv":"HAM","d":281,"v":11407},{"drv":"HAM","d":296,"v":10682},{"drv":"HAM","d":330,"v":11506},{"drv":"HAM","d":341,"v":10451},
      {"drv":"HAM","d":378,"v":11012},{"drv":"HAM","d":435,"v":11605},{"drv":"HAM","d":452,"v":10682},{"drv":"HAM","d":542,"v":10847},{"drv":"HAM","d":594,"v":11012},
      {"drv":"HAM","d":628,"v":10418},{"drv":"HAM","d":676,"v":10353},{"drv":"HAM","d":698,"v":10946},{"drv":"HAM","d":713,"v":10287},{"drv":"HAM","d":735,"v":9529},
      {"drv":"HAM","d":757,"v":8870},{"drv":"HAM","d":802,"v":9364},{"drv":"HAM","d":832,"v":9694},{"drv":"HAM","d":866,"v":8771},{"drv":"HAM","d":891,"v":9364},
      {"drv":"HAM","d":914,"v":11012},{"drv":"HAM","d":940,"v":11835},{"drv":"HAM","d":958,"v":11176},{"drv":"HAM","d":996,"v":11605},{"drv":"HAM","d":1015,"v":12264},
      {"drv":"HAM","d":1048,"v":10353},{"drv":"HAM","d":1062,"v":10188},{"drv":"HAM","d":1077,"v":8375},{"drv":"HAM","d":1100,"v":6893},{"drv":"HAM","d":1115,"v":6728},
      {"drv":"HAM","d":1137,"v":9035},{"drv":"HAM","d":1152,"v":11506},{"drv":"HAM","d":1174,"v":11012},{"drv":"HAM","d":1189,"v":9035},{"drv":"HAM","d":1199,"v":10353},
      {"drv":"HAM","d":1219,"v":7057},{"drv":"HAM","d":1234,"v":4751},{"drv":"HAM","d":1256,"v":8705},{"drv":"HAM","d":1268,"v":11341},{"drv":"HAM","d":1278,"v":9694},
      {"drv":"HAM","d":1293,"v":7387},{"drv":"HAM","d":1312,"v":7222},{"drv":"HAM","d":1327,"v":8375},{"drv":"HAM","d":1345,"v":11176},{"drv":"HAM","d":1360,"v":10353},
      {"drv":"HAM","d":1375,"v":8046},{"drv":"HAM","d":1390,"v":7552},{"drv":"HAM","d":1405,"v":8375},{"drv":"HAM","d":1423,"v":9364},{"drv":"HAM","d":1434,"v":12000},
      {"drv":"HAM","d":1449,"v":11341},{"drv":"HAM","d":1464,"v":11671},{"drv":"HAM","d":1472,"v":10682},{"drv":"HAM","d":1494,"v":11506},{"drv":"HAM","d":1509,"v":10682},
      {"drv":"HAM","d":1531,"v":11605},{"drv":"HAM","d":1546,"v":10517},{"drv":"HAM","d":1568,"v":10682},{"drv":"HAM","d":1591,"v":11341},{"drv":"HAM","d":1620,"v":10353},
      {"drv":"HAM","d":1658,"v":10682},{"drv":"HAM","d":1702,"v":10946},{"drv":"HAM","d":1814,"v":11407},{"drv":"HAM","d":1851,"v":10517},{"drv":"HAM","d":1878,"v":10451},
      {"drv":"HAM","d":1954,"v":10550},{"drv":"HAM","d":1976,"v":9694},{"drv":"HAM","d":1999,"v":8441},{"drv":"HAM","d":2021,"v":8540},{"drv":"HAM","d":2031,"v":9200},
      {"drv":"HAM","d":2043,"v":8375},{"drv":"HAM","d":2058,"v":7387},{"drv":"HAM","d":2073,"v":6069},{"drv":"HAM","d":2088,"v":7387},{"drv":"HAM","d":2105,"v":10023},
      {"drv":"HAM","d":2120,"v":12165},{"drv":"HAM","d":2132,"v":11341},{"drv":"HAM","d":2147,"v":11671},{"drv":"HAM","d":2159,"v":10353},{"drv":"HAM","d":2174,"v":11176},
      {"drv":"HAM","d":2188,"v":10353},{"drv":"HAM","d":2221,"v":11506},{"drv":"HAM","d":2243,"v":10682},{"drv":"HAM","d":2266,"v":11341},{"drv":"HAM","d":2288,"v":10188},
      {"drv":"HAM","d":2310,"v":9957},{"drv":"HAM","d":2325,"v":11012},{"drv":"HAM","d":2347,"v":10682},{"drv":"HAM","d":2369,"v":11506},{"drv":"HAM","d":2392,"v":11012},
      {"drv":"HAM","d":2429,"v":11736},{"drv":"HAM","d":2451,"v":11012},{"drv":"HAM","d":2488,"v":10847},{"drv":"HAM","d":2533,"v":11605},{"drv":"HAM","d":2570,"v":11671},
      {"drv":"HAM","d":2592,"v":10682},{"drv":"HAM","d":2610,"v":9200},{"drv":"HAM","d":2637,"v":10517},{"drv":"HAM","d":2659,"v":9694},{"drv":"HAM","d":2674,"v":9035},
      {"drv":"HAM","d":2688,"v":10023},{"drv":"HAM","d":2703,"v":10353},{"drv":"HAM","d":2718,"v":11341},{"drv":"HAM","d":2728,"v":10682},{"drv":"HAM","d":2748,"v":11671},
      {"drv":"HAM","d":2770,"v":11506},{"drv":"HAM","d":2785,"v":11341},{"drv":"HAM","d":2800,"v":11012},{"drv":"HAM","d":2815,"v":9364},{"drv":"HAM","d":2829,"v":9035},
      {"drv":"HAM","d":2844,"v":7387},{"drv":"HAM","d":2859,"v":6398},{"drv":"HAM","d":2871,"v":5344},{"drv":"HAM","d":2886,"v":6398},{"drv":"HAM","d":2904,"v":8375},
      {"drv":"HAM","d":2918,"v":10353},{"drv":"HAM","d":2930,"v":9364},{"drv":"HAM","d":2941,"v":8375},{"drv":"HAM","d":2955,"v":7453},{"drv":"HAM","d":2970,"v":7716},
      {"drv":"HAM","d":2985,"v":10023},{"drv":"HAM","d":3000,"v":11341},{"drv":"HAM","d":3022,"v":11506},{"drv":"HAM","d":3052,"v":11012},{"drv":"HAM","d":3082,"v":11605},
      {"drv":"HAM","d":3111,"v":11176},{"drv":"HAM","d":3141,"v":11341},{"drv":"HAM","d":3163,"v":11506},{"drv":"HAM","d":3178,"v":10781},{"drv":"HAM","d":3208,"v":10682},
      {"drv":"HAM","d":3252,"v":11275}
    ]
  },
  "vconcat": [
    {
      "width": 732,
      "height": 70,
      "title": {
        "text": "2023 Monaco Grand Prix - Qualifying",
        "subtitle": "Telemetry :  VER (lap 29) vs. HAM (lap 29)",
        "anchor": "middle",
        "fontSize": 16,
        "fontWeight": "normal",
        "color": "#f2f5fa",
        "subtitleFontSize": 14,
        "subtitleColor": "#f2f5fa",
        "subtitlePadding": 27,
        "offset": 84
      },
      "data": {"name": "delta"},
      "mark": {"type": "line", "color": "#ffffff", "strokeWidth": 1},
      "encoding": {
        "x": {
          "field": "d", "type": "quantitative",
          "scale": {"domain": [23, 3247], "nice": false, "zero": false},
          "axis": {"values": [500, 1000, 1500, 2000, 2500, 3000], "format": "d", "title": null}
        },
        "y": {
          "field": "v", "type": "quantitative",
          "scale": {"domain": [-0.313, 0.296], "nice": false, "zero": false},
          "axis": {"values": [-0.2, 0, 0.2], "format": "~g", "title": "Delta time (s)"}
        }
      }
    },
    {
      "width": 732,
      "height": 335,
      "data": {"name": "speed"},
      "mark": {"type": "line", "strokeWidth": 2},
      "encoding": {
        "x": {
          "field": "d", "type": "quantitative",
          "scale": {"domain": [10, 3272], "nice": false, "zero": false},
          "axis": {"values": [500, 1000, 1500, 2000, 2500, 3000], "format": "d", "title": null}
        },
        "y": {
          "field": "v", "type": "quantitative",
          "scale": {"domain": [31, 306.6], "nice": false, "zero": false},
          "axis": {"values": [40, 60, 80, 100, 120, 140, 160, 180, 200, 220, 240, 260, 280, 300], "title": "Speed (km/h)"}
        },
        "color": {
          "field": "drv", "type": "nominal",
          "scale": {"domain": ["VER", "HAM"], "range": ["#0600ef", "#00d2be"]},
          "legend": {
            "title": null,
            "orient": "none",
            "legendX": 752,
            "legendY": 5,
            "symbolType": "stroke",
            "symbolSize": 784,
            "symbolStrokeWidth": 2,
            "rowPadding": -7,
            "labelColor": "#f2f5fa",
            "labelFontSize": 13,
            "labelExpr": "datum.label == 'VER' ? 'VER (1:11.365)' : 'HAM (1:11.725)'"
          }
        }
      }
    },
    {
      "width": 732,
      "height": 93,
      "data": {"name": "throttle"},
      "mark": {"type": "line", "strokeWidth": 2},
      "encoding": {
        "x": {
          "field": "d", "type": "quantitative",
          "scale": {"domain": [10, 3272], "nice": false, "zero": false},
          "axis": {"values": [500, 1000, 1500, 2000, 2500, 3000], "format": "d", "title": null}
        },
        "y": {
          "field": "v", "type": "quantitative",
          "scale": {"domain": [-7.6, 110.1], "nice": false, "zero": false},
          "axis": {"values": [0, 25, 50, 75, 100], "title": "Throttle (%)"}
        },
        "color": {"field": "drv", "type": "nominal", "scale": {"domain": ["VER", "HAM"], "range": ["#0600ef", "#00d2be"]}}
      }
    },
    {
      "width": 732,
      "height": 93,
      "data": {"name": "brake"},
      "mark": {"type": "line", "strokeWidth": 2, "interpolate": "step-after"},
      "encoding": {
        "x": {
          "field": "d", "type": "quantitative",
          "scale": {"domain": [10, 3272], "nice": false, "zero": false},
          "axis": {"values": [500, 1000, 1500, 2000, 2500, 3000], "format": "d", "title": null}
        },
        "y": {
          "field": "v", "type": "quantitative",
          "scale": {"domain": [-0.076, 1.101], "nice": false, "zero": false},
          "axis": {"values": [0, 1], "format": "d", "title": "Brake"}
        },
        "color": {"field": "drv", "type": "nominal", "scale": {"domain": ["VER", "HAM"], "range": ["#0600ef", "#00d2be"]}}
      }
    },
    {
      "width": 732,
      "height": 93,
      "data": {"name": "drs"},
      "mark": {"type": "line", "strokeWidth": 2, "interpolate": "step-after"},
      "encoding": {
        "x": {
          "field": "d", "type": "quantitative",
          "scale": {"domain": [10, 3272], "nice": false, "zero": false},
          "axis": {"values": [500, 1000, 1500, 2000, 2500, 3000], "format": "d", "title": null}
        },
        "y": {
          "field": "v", "type": "quantitative",
          "scale": {"domain": [-0.076, 1.101], "nice": false, "zero": false},
          "axis": {"values": [0, 1], "format": "d", "title": "DRS"}
        },
        "color": {"field": "drv", "type": "nominal", "scale": {"domain": ["VER", "HAM"], "range": ["#0600ef", "#00d2be"]}}
      }
    },
    {
      "width": 732,
      "height": 93,
      "data": {"name": "gear"},
      "mark": {"type": "line", "strokeWidth": 2, "interpolate": "step-after"},
      "encoding": {
        "x": {
          "field": "d", "type": "quantitative",
          "scale": {"domain": [10, 3272], "nice": false, "zero": false},
          "axis": {"values": [500, 1000, 1500, 2000, 2500, 3000], "format": "d", "title": null}
        },
        "y": {
          "field": "v", "type": "quantitative",
          "scale": {"domain": [0.468, 8.709], "nice": false, "zero": false},
          "axis": {"values": [1, 2, 3, 4, 5, 6, 7, 8], "format": "d", "title": "Gear Number", "grid": false, "labelOverlap": false, "labelFontSize": 11}
        },
        "color": {"field": "drv", "type": "nominal", "scale": {"domain": ["VER", "HAM"], "range": ["#0600ef", "#00d2be"]}}
      }
    },
    {
      "width": 732,
      "height": 93,
      "data": {"name": "rpm"},
      "mark": {"type": "line", "strokeWidth": 2},
      "encoding": {
        "x": {
          "field": "d", "type": "quantitative",
          "scale": {"domain": [10, 3272], "nice": false, "zero": false},
          "axis": {"values": [500, 1000, 1500, 2000, 2500, 3000], "format": "d", "title": "Distance (m)", "titlePadding": 18}
        },
        "y": {
          "field": "v", "type": "quantitative",
          "scale": {"domain": [3934, 13082], "nice": false, "zero": false},
          "axis": {"values": [6000, 8000, 10000, 12000], "format": "~s", "title": "RPM", "grid": false}
        },
        "color": {"field": "drv", "type": "nominal", "scale": {"domain": ["VER", "HAM"], "range": ["#0600ef", "#00d2be"]}}
      }
    }
  ],
  "spacing": 39,
  "bounds": "flush",
  "resolve": {"scale": {"x": "independent", "y": "independent", "color": "shared"}, "axis": {"x": "independent", "y": "independent"}},
  "config": {
    "font": "Liberation Sans",
    "view": {"stroke": null},
    "axis": {
      "domain": false,
      "labelColor": "#f2f5fa",
      "labelFontSize": 13,
      "titleColor": "#f2f5fa",
      "titleFontSize": 16,
      "titleFontWeight": "normal",
      "tickColor": "#f2f5fa",
      "tickSize": 2,
      "gridColor": "#62627a",
      "gridWidth": 1
    },
    "axisX": {"labelPadding": 9, "gridColor": "#0b0b47", "labelFlush": false},
    "axisY": {"labelPadding": 8, "titleX": -41}
  }
}
